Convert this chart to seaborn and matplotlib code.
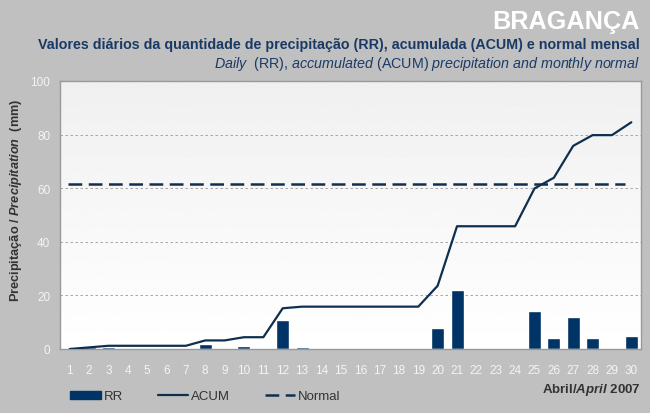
import numpy as np
import pandas as pd
import seaborn as sns
import matplotlib
matplotlib.use("Agg")
import matplotlib.pyplot as plt
from matplotlib.lines import Line2D
from matplotlib.patches import Patch

# dados (Bragança, Abril 2007)
dias = list(range(1, 31))
rr = [0, 0.6, 0.6, 0, 0, 0, 0, 2.0, 0, 1.2,
      0, 10.8, 0.6, 0, 0, 0, 0, 0, 0, 7.8,
      22.2, 0, 0, 0, 14.1, 4.0, 11.9, 4.0, 0, 4.8]
acum = [0, 0.6, 1.2, 1.2, 1.2, 1.2, 1.2, 3.2, 3.2, 4.4,
        4.4, 15.2, 15.8, 15.8, 15.8, 15.8, 15.8, 15.8, 15.8, 23.6,
        45.8, 45.8, 45.8, 45.8, 59.9, 63.9, 75.8, 79.8, 79.8, 84.6]
normal = 61.7
y_ticks = [0, 20, 40, 60, 80, 100]

sns.set_style("white")
plt.rcParams["font.family"] = ["Liberation Sans", "DejaVu Sans"]
plt.rcParams["mathtext.fontset"] = "custom"
plt.rcParams["mathtext.rm"] = "Liberation Sans"
plt.rcParams["mathtext.it"] = "Liberation Sans:italic"
plt.rcParams["mathtext.bf"] = "Liberation Sans:bold:italic"

navy = "#003366"
linha = "#0f2f4f"
cinza_txt = "#333333"

df = pd.DataFrame({"dia": dias, "RR": rr, "ACUM": acum})

fig = plt.figure(figsize=(6.5, 4.14), dpi=100, facecolor="#c0c0c0")
ax = fig.add_axes([60 / 650, 1 - 350 / 414, 581 / 650, 268 / 414])

# fundo em gradiente da área do gráfico
grad = np.linspace(1.0, 0.94, 256).reshape(-1, 1)
ax.imshow(grad, extent=[0.5, 30.5, 0, 100], aspect="auto", cmap="gray",
          vmin=0, vmax=1, origin="lower", zorder=0)

sns.barplot(data=df, x="dia", y="RR", native_scale=True, color=navy,
            saturation=1, width=0.67, ax=ax, zorder=2)
sns.lineplot(data=df, x="dia", y="ACUM", color=linha, linewidth=1.6, ax=ax, zorder=3)
ax.hlines(normal, 0.9, 29.67, colors=linha, linewidth=1.8,
          linestyles=(0, (5.5, 2.6)), zorder=3)

ax.set_xlim(0.5, 30.5)
ax.set_ylim(0, 100)
ax.set_xticks(dias)
ax.set_xticklabels([str(d) for d in dias])
ax.set_xticks(np.arange(1.5, 30.5, 1), minor=True)
ax.set_yticks(y_ticks)
ax.tick_params(axis="both", which="major", length=0, labelsize=8.5, colors="#f4f4f4")
ax.tick_params(axis="y", which="major", pad=7)
ax.tick_params(axis="x", which="major", pad=11)
ax.tick_params(axis="x", which="minor", direction="in", length=3, color="#999999")
ax.grid(axis="y", color="#999999", linestyle=(0, (3, 3)), linewidth=0.6)
ax.set_axisbelow(True)
for s in ax.spines.values():
    s.set_color("#999999")
    s.set_linewidth(1.0)
ax.set_xlabel("")
ax.set_ylabel(r"Precipitação / $\mathbf{Precipitation}$  (mm)", fontsize=9.2,
              fontweight="bold", color=cinza_txt)
ax.yaxis.set_label_coords(-0.062, 0.558)

fig.text(0.984, 0.948, "BRAGANÇA", ha="right", va="center", fontsize=18.2,
         fontweight="bold", color="white")
fig.text(0.985, 0.892, "Valores diários da quantidade de precipitação (RR), acumulada (ACUM) e normal mensal",
         ha="right", va="center", fontsize=10.3, fontweight="bold", color="#1a3a66")
fig.text(0.985, 0.846, r"$\it{Daily}$  (RR), $\it{accumulated}$ (ACUM) $\it{precipitation\ and\ monthly\ normal}$",
         ha="right", va="center", fontsize=10.3, color="#1a3a66")
fig.text(0.985, 0.058, r"Abril/$\mathbf{April}$ 2007", ha="right", va="center",
         fontsize=9.5, fontweight="bold", color=cinza_txt)

handles = [Patch(facecolor=navy, edgecolor=navy),
           Line2D([0], [0], color=linha, linewidth=1.6),
           Line2D([0], [0], color=linha, linewidth=1.8, linestyle=(0, (5.5, 2.6)))]
fig.legend(handles, ["RR", "ACUM", "Normal"], loc="center left",
           bbox_to_anchor=(0.09, 0.04), ncol=3, frameon=False, fontsize=9.5,
           handlelength=2.3, handleheight=0.6, handletextpad=0.25, columnspacing=2.6,
           labelcolor=cinza_txt)

fig.savefig("out.png", dpi=100, facecolor=fig.get_facecolor())
